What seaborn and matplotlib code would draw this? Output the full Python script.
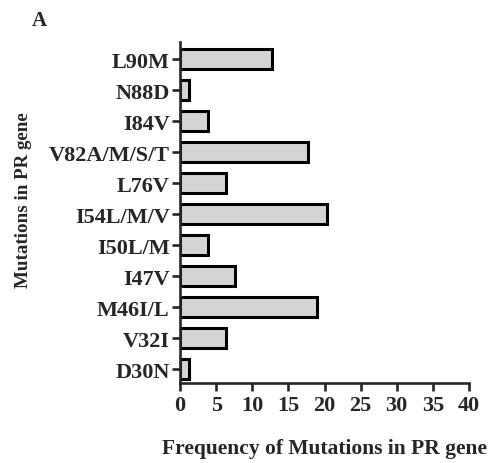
import matplotlib
matplotlib.use("Agg")
import matplotlib.pyplot as plt
import pandas as pd
import seaborn as sns

mutations = ["L90M", "N88D", "I84V", "V82A/M/S/T", "L76V", "I54L/M/V",
             "I50L/M", "I47V", "M46I/L", "V32I", "D30N"]
frequency = [12.7, 1.3, 3.8, 17.7, 6.3, 20.3, 3.8, 7.6, 19.0, 6.3, 1.3]
xticks = [0, 5, 10, 15, 20, 25, 30, 35, 40]

df = pd.DataFrame({"mutation": mutations, "freq": frequency})

sns.set_style("ticks")
plt.rcParams["font.family"] = ["Liberation Serif", "DejaVu Serif"]
plt.rcParams["font.weight"] = "bold"

fig = plt.figure(figsize=(4.88, 4.64), dpi=100)
ax = fig.add_axes([0.369, 0.172, 0.592, 0.735])

sns.barplot(data=df, x="freq", y="mutation", orient="h", color="#d4d4d4",
            edgecolor="black", linewidth=2.2, width=0.65, saturation=1, ax=ax)

ax.set_xlim(0, 40)
ax.set_ylim(10.45, -0.55)
ax.set_xticks(xticks)
ax.set_xticklabels([str(t) for t in xticks])
sns.despine(ax=ax)
for s in ["left", "bottom"]:
    ax.spines[s].set_linewidth(1.9)
ax.tick_params(axis="both", length=5.5, width=1.9, labelsize=16, pad=2)
ax.tick_params(axis="x", pad=3)
for lab in ax.get_xticklabels() + ax.get_yticklabels():
    lab.set_fontweight("bold")

ax.set_xlabel("Frequency of Mutations in PR gene", fontsize=15.5,
              fontweight="bold", va="center")
ax.xaxis.set_label_coords(0.5, -0.19)
ax.set_ylabel("Mutations in PR gene", fontsize=13.7, fontweight="bold")
ax.yaxis.set_label_coords(-0.512, 0.54)

fig.text(0.08, 0.955, "A", fontsize=15, fontweight="bold", va="center", ha="center")

fig.savefig("out.png", dpi=100)
